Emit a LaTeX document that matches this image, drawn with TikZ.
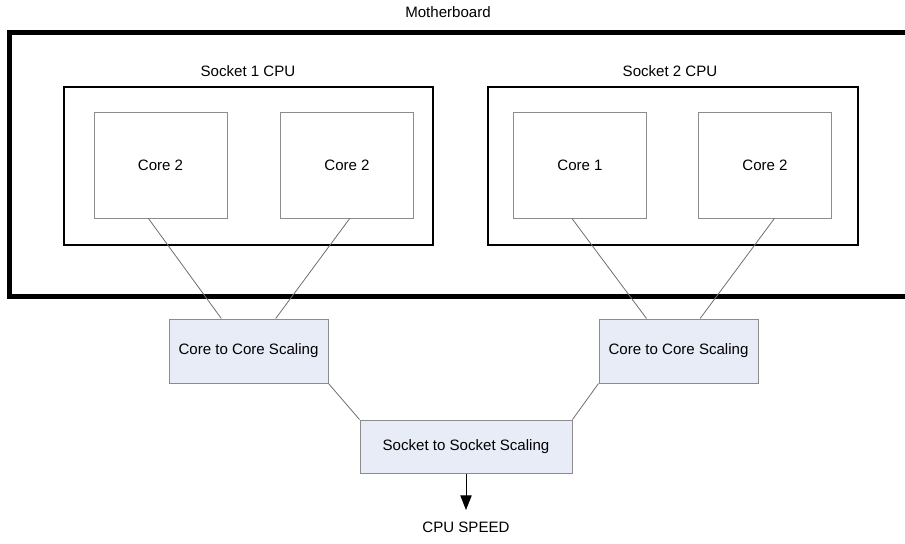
\documentclass[tikz,border=0pt]{standalone}
\usepackage{fontspec}
\setmainfont{Liberation Sans}
\usetikzlibrary{calc,arrows.meta}
\definecolor{scalefill}{RGB}{232,236,247}
\definecolor{boxgray}{RGB}{140,140,140}
\definecolor{linkgray}{RGB}{110,110,110}
\begin{document}
\begin{tikzpicture}[x=0.75pt,y=-0.75pt,font=\fontsize{11.3}{13}\selectfont,
  corebox/.style={draw=boxgray,line width=0.75pt,minimum width=99.75pt,minimum height=79.5pt,inner sep=0pt},
  scalebox/.style={draw=boxgray,fill=scalefill,line width=0.75pt,minimum width=119.25pt,minimum height=48pt,inner sep=0pt},
  link/.style={draw=linkgray,line width=0.6pt}]
\useasboundingbox (0,0) rectangle (905,543);
\clip (0,0) rectangle (905,543);
\draw[line width=3.75pt] (960,32.5) -- (9.5,32.5) -- (9.5,296.5) -- (960,296.5);
\node (mb) at (448,12) {Motherboard};

\draw[line width=1.5pt] (64,87) rectangle (433,245);
\node (s1) at (248,71) {Socket 1 CPU};
\draw[line width=1.5pt] (488,87) rectangle (858,245);
\node (s2) at (670,71) {Socket 2 CPU};

\node[corebox] (c1a) at (160.5,165) {Core 2};
\node[corebox] (c1b) at (347,165) {Core 2};
\node[corebox] (c2a) at (580,165) {Core 1};
\node[corebox] (c2b) at (765,165) {Core 2};

\node[scalebox] (ccl) at (248.5,351) {Core to Core Scaling};
\node[scalebox] (ccr) at (678.5,351) {Core to Core Scaling};
\node[scalebox,minimum width=159pt,minimum height=39.75pt] (sts) at (466,446.5) {Socket to Socket Scaling};
\node (speed) at (466,527) {CPU SPEED};

\draw[link] ($(c1a.south west)!0.41!(c1a.south east)$) -- ($(ccl.north west)!0.33!(ccl.north east)$);
\draw[link] ($(c1b.south west)!0.52!(c1b.south east)$) -- ($(ccl.north west)!0.67!(ccl.north east)$);
\draw[link] ($(c2a.south west)!0.44!(c2a.south east)$) -- ($(ccr.north west)!0.30!(ccr.north east)$);
\draw[link] ($(c2b.south west)!0.57!(c2b.south east)$) -- ($(ccr.north west)!0.635!(ccr.north east)$);
\draw[link] (ccl.south east) -- (sts.north west);
\draw[link] (ccr.south west) -- (sts.north east);

\coordinate (tip) at (466,510);
\draw[line width=0.75pt,-{Triangle[length=11pt,width=8.5pt]}] (sts.south) -- (tip);
\end{tikzpicture}
\end{document}
